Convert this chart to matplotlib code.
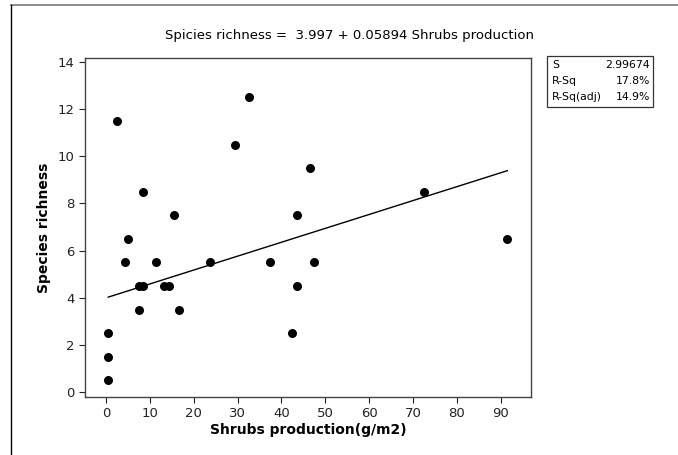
import matplotlib
matplotlib.use('Agg')
import matplotlib.pyplot as plt
from matplotlib.patches import Rectangle
from matplotlib.lines import Line2D
import numpy as np

# Data
shrubs = [0.5, 0.5, 0.5, 2.6, 4.3, 4.9, 7.4, 7.4, 8.5, 8.5, 11.4, 13.2, 14.4,
          15.5, 16.6, 23.6, 29.5, 32.5, 37.3, 42.4, 43.5, 43.5, 46.5, 47.5,
          72.4, 91.5]
richness = [0.5, 1.5, 2.5, 11.5, 5.5, 6.5, 4.5, 3.5, 4.5, 8.5, 5.5, 4.5, 4.5,
            7.5, 3.5, 5.5, 10.5, 12.5, 5.5, 2.5, 7.5, 4.5, 9.5, 5.5,
            8.5, 6.5]

intercept = 3.997
slope = 0.05894
stat_names = ['S', 'R-Sq', 'R-Sq(adj)']
stat_values = ['2.99674', '17.8%', '14.9%']

plt.rcParams['font.family'] = ['DejaVu Sans']

W, H = 678, 455
fig = plt.figure(figsize=(W / 100, H / 100), dpi=100)

# axes placed in pixel terms
left, right, top, bottom = 85, 531, 58, 397
ax = fig.add_axes([left / W, 1 - bottom / H, (right - left) / W, (bottom - top) / H])

ax.scatter(shrubs, richness, s=42, color='black', zorder=3, linewidths=0)
xfit = np.linspace(min(shrubs), max(shrubs), 50)
ax.plot(xfit, intercept + slope * xfit, color='black', lw=1.0)

ax.set_xlim(-4.8, 96.9)
ax.set_ylim(-0.21, 14.17)
ax.set_xticks(range(0, 91, 10))
ax.set_yticks(range(0, 15, 2))
ax.tick_params(direction='out', length=4, width=0.8, labelsize=9.5, colors='#222222')
for sp in ax.spines.values():
    sp.set_color('#444444')
    sp.set_linewidth(1.0)

ax.set_xlabel('Shrubs production(g/m2)', fontsize=10, fontweight='bold', labelpad=2)
ax.set_ylabel('Species richness', fontsize=10, fontweight='bold', labelpad=5)

fig.text(350 / W, 1 - 35 / H, 'Spicies richness =  3.997 + 0.05894 Shrubs production',
         ha='center', va='center', fontsize=9.5)

# statistics box
bx0, bx1, by0, by1 = 547, 653, 56, 107
fig.patches.append(Rectangle((bx0 / W, 1 - by1 / H), (bx1 - bx0) / W, (by1 - by0) / H,
                             transform=fig.transFigure, fill=False, edgecolor='#333333', lw=0.9))
for i, (n, v) in enumerate(zip(stat_names, stat_values)):
    yy = 1 - (65 + 16 * i) / H
    fig.text((bx0 + 5) / W, yy, n, ha='left', va='center', fontsize=7.8)
    fig.text((bx1 - 3) / W, yy, v, ha='right', va='center', fontsize=7.8)

# outer graph frame (cropped on right and bottom)
fig.lines.append(Line2D([11 / W, 1], [1 - 5 / H, 1 - 5 / H], transform=fig.transFigure,
                        color='#777777', lw=1.2))
fig.lines.append(Line2D([11 / W, 11 / W], [0, 1 - 5 / H], transform=fig.transFigure,
                        color='black', lw=1.0))

fig.savefig('out.png', dpi=100)
